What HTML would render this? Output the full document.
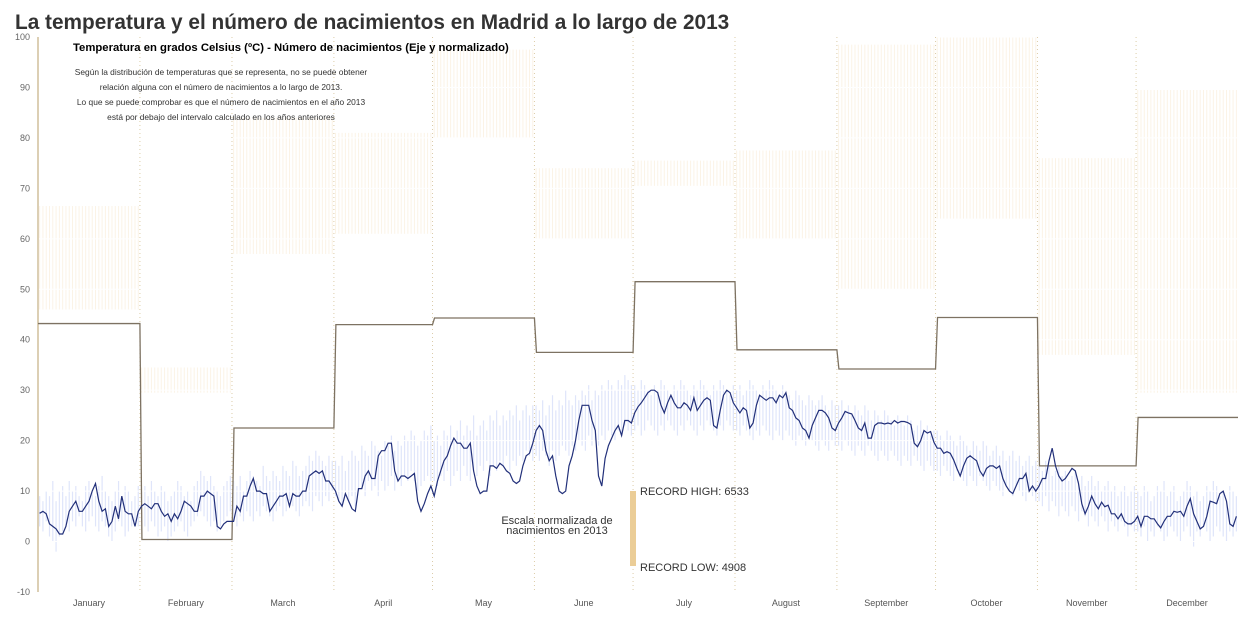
<!DOCTYPE html>
<html><head><meta charset="utf-8"><style>
body{margin:0;background:#fff;font-family:"Liberation Sans",sans-serif}
svg text{font-family:"Liberation Sans",sans-serif}
</style></head><body>
<svg id="chart" width="1256" height="620" xmlns="http://www.w3.org/2000/svg">
<g id="plot"></g>
<text x="15" y="29" font-size="20.8" font-weight="bold" fill="#333">La temperatura y el número de nacimientos en Madrid a lo largo de 2013</text>
<text x="73" y="51" font-size="11.3" font-weight="bold" fill="#000">Temperatura en grados Celsius (ºC) - Número de nacimientos (Eje y normalizado)</text>
<g font-size="8.4" fill="#333" text-anchor="middle">
<text x="221" y="75">Según la distribución de temperaturas que se representa, no se puede obtener</text>
<text x="221" y="90">relación alguna con el número de nacimientos a lo largo de 2013.</text>
<text x="221" y="105">Lo que se puede comprobar es que el número de nacimientos en el año 2013</text>
<text x="221" y="120">está por debajo del intervalo calculado en los años anteriores</text>
</g>
<g>
<rect x="630" y="491" width="6" height="75" fill="#ebcd97"/>
<text x="640" y="495" font-size="11" fill="#333">RECORD HIGH: 6533</text>
<text x="640" y="571" font-size="11" fill="#333">RECORD LOW: 4908</text>
<text x="557" y="524" font-size="11" fill="#333" text-anchor="middle">Escala normalizada de</text>
<text x="557" y="534" font-size="11" fill="#333" text-anchor="middle">nacimientos en 2013</text>
</g>
</svg>
<script>
const months=["January","February","March","April","May","June","July","August","September","October","November","December"];
const monthDays=[31,28,31,30,31,30,31,31,30,31,30,31];
const yTicks=[-10,0,10,20,30,40,50,60,70,80,90,100];
const birthsLow=[46,29.5,57,61,80,60,70.5,60,50,64,37,29.5];
const birthsHigh=[66.5,34.5,84,81,97.5,74,75.5,77.5,98.5,100,76,89.5];
const births2013=[43.2,0.4,22.5,43,44.3,37.5,51.5,38,34.2,44.4,15,24.6];
const temp=[
5.6,6,5.5,3.5,3,2.5,1.5,1.5,3,6,7,8,6,6,7,8,10,11.5,8,6,6.5,3,4,7,4.5,9,6,5.5,5.5,3,6,
7,7.5,7,6.5,7.5,7.5,6,5,5.5,4,5.5,4.5,6,8,7.5,7,6,6,9,9,10,9.5,9,3,2.5,3.5,4,4,
4,7,6,9,9,11,12.5,10,10,9.5,9.5,6,7,8,9,9,9.5,7,9.5,9,9,10,10,13,13.5,14,13.5,14,12,12,11,
10,8,7,9.5,8,6.5,6,10.5,10.5,13,14,12.5,12.5,17,18,18,19.5,19.5,14,12,13,13,12.5,13,13.5,8,6,7.5,9.5,11,
9,12,14,16,17,19,20.5,19.5,19.5,18.5,18.5,19.5,14,11,9.5,10,10,15,15,14.5,15.5,15,14,13.5,12,11.5,12,15,17,17.5,19.5,
22,23,22,18,16,17,13,10,9.5,10,15,17,20,24,27,27,27,24,22,13,11,16.5,19,20.5,22,23,21,24,24,23.5,
25.5,26.7,27.5,28.5,29.5,30,30,29.5,27,25.5,27.5,29,27.5,26.5,26.5,27.5,27,26,28.5,26,27,28,28.5,28,23,22.5,26,29,30,29.5,27.5,
26.5,25.5,26.5,26,22.5,23.5,27,29,28.5,28,28.5,28.5,27.5,29,28.5,29.5,26.5,26,24.5,24,22.5,22,20.5,23,24.5,26,26,25.5,24.5,22.5,22,
23.5,24.5,25.8,25.5,25.3,24,22.5,22,23.5,20.5,20.5,23,23.5,23.5,23.3,23.5,23.3,24,23.5,23.8,23.8,23.6,23.2,19.5,18.8,20,22,21.5,21.8,19.7,
18.5,18.5,17.5,17.8,17.5,16.2,14.5,13,15,16.5,17,16.5,16,14,13,14.5,15,15,14.5,15,12.5,11,10,9.5,11,12.5,12.5,13.5,10,11,10,
11,12.5,12.5,16,18.5,15,13,12,12.5,13.5,14.5,14,11.5,7.5,5.5,7,9,7.5,6.5,7.8,6.9,7.2,5.5,5.5,4.5,5.5,4,3.5,3.5,4,
5,3,5,5,4.5,4.5,3.5,2.7,4,5,5,6,5.8,6,5,7,8.5,5.5,4,2.5,3,5,8,7.8,7.5,9.5,10,8,3.5,3,5];
const histHigh=[
9,8,10,9,12,8,10,11,9,12,10,11,9,8,11,12,10,9,11,13,10,9,8,10,12,9,11,10,8,9,11,
10,11,9,12,10,9,11,10,8,9,10,12,11,9,10,8,11,12,14,13,12,13,11,10,9,11,12,13,
12,11,13,10,12,14,13,12,11,15,13,12,14,13,12,15,14,13,16,15,13,14,15,17,16,18,17,16,15,17,16,
16,15,17,14,16,18,17,16,19,18,17,20,19,18,17,20,19,21,18,20,19,21,20,22,21,19,20,22,21,23,
20,21,19,22,21,23,20,22,24,21,23,22,25,21,23,24,22,25,24,26,23,25,24,26,25,27,24,26,27,25,27,
27,26,28,25,27,29,26,28,27,30,28,27,29,28,30,29,31,28,30,29,31,30,32,31,30,32,31,33,32,31,
31,30,32,31,30,29,31,30,32,31,30,29,31,30,32,31,30,29,31,30,32,31,30,29,31,30,32,31,30,29,31,
30,31,29,30,32,31,30,29,31,30,32,31,30,29,31,30,29,28,30,29,28,27,29,28,27,28,29,27,26,28,27,
27,28,26,27,25,27,26,25,27,26,24,26,25,24,26,25,24,23,25,24,23,25,24,22,23,24,22,23,21,22,
22,21,20,22,21,20,19,21,20,19,18,20,19,18,20,19,17,18,19,17,18,16,17,18,16,17,15,16,17,15,16,
15,14,16,15,13,14,15,13,14,12,13,14,12,13,11,12,13,11,12,10,11,12,10,11,9,10,11,9,10,11,
10,9,11,10,8,9,11,10,12,9,10,11,8,9,10,12,11,9,10,8,9,11,10,12,11,9,10,8,11,10,9];
const histLow=[
3,2,4,1,0,-2,1,2,3,2,4,3,5,3,2,4,5,3,2,4,3,1,0,2,4,3,1,2,3,4,3,
4,3,2,4,3,1,2,3,0,1,2,3,4,2,1,3,4,5,6,5,4,3,4,2,3,4,5,6,
4,3,5,4,6,5,4,6,5,7,6,5,4,6,7,5,6,8,7,6,5,7,8,7,6,9,8,7,9,8,10,
9,8,7,10,8,9,7,10,11,9,12,10,11,9,12,10,11,13,10,12,11,13,12,14,12,10,11,12,13,12,
12,11,13,12,14,11,13,14,12,15,13,12,14,13,15,14,16,13,15,14,16,15,17,14,16,15,17,16,18,17,16,
17,16,18,17,15,18,16,17,19,18,17,19,18,20,19,18,21,19,20,19,21,20,22,21,20,22,21,23,22,21,
22,23,21,22,24,23,22,21,23,22,24,23,22,21,23,22,24,23,22,21,23,22,24,23,22,21,23,22,24,23,22,
22,21,23,22,21,20,22,21,23,22,21,20,22,21,20,22,21,20,19,21,20,19,21,20,19,18,20,19,18,20,19,
19,18,20,19,18,17,19,18,17,19,18,17,16,18,17,16,18,17,16,15,17,16,15,17,16,15,14,16,15,14,
14,13,15,14,13,12,14,13,12,11,13,12,11,13,12,11,10,12,11,10,9,11,10,9,11,10,9,8,10,9,8,
8,7,9,6,8,7,5,7,6,5,7,6,4,6,5,3,5,4,3,5,4,2,4,3,2,4,3,1,3,2,
2,1,3,0,2,1,3,2,0,1,3,2,1,0,2,3,1,-1,2,1,3,2,0,1,3,2,1,0,2,1,2];

const NS="http://www.w3.org/2000/svg";
const plot=document.getElementById('plot');
const X0=38,X1=1238,Y0=37,Y1=592;
const nDays=monthDays.reduce((a,b)=>a+b,0);
function xs(d){return X0+d*(X1-X0)/nDays;}
function ys(v){return Y0+(100-v)*(Y1-Y0)/110;}
function mk(tag,attrs,parent){const e=document.createElementNS(NS,tag);for(const k in attrs)e.setAttribute(k,attrs[k]);(parent||plot).appendChild(e);return e;}
const starts=[];let acc=0;monthDays.forEach(m=>{starts.push(acc);acc+=m;});

const gB=mk('g',{});


months.forEach((m,i)=>{
  for(let d=0;d<monthDays[i];d++){
    const x=xs(starts[i]+d+0.5);
    const l=mk('line',{x1:x,x2:x,y1:ys(birthsLow[i]),y2:ys(birthsHigh[i]),stroke:'#fbf3e6','stroke-width':1},gB);
    
    
  }
});
const gT=mk('g',{});


for(let d=0;d<nDays;d++){
  const x=xs(d+0.5);
  const l=mk('line',{x1:x,x2:x,y1:ys(histLow[d]),y2:ys(histHigh[d]),stroke:'#dfe5fa','stroke-width':1.2},gT);
  
  
}
yTicks.forEach(v=>{
  const g=mk('line',{x1:X0,x2:X1,y1:ys(v),y2:ys(v),stroke:'#fff','stroke-width':1});
  
  
  const t=mk('text',{x:30,y:ys(v)+3,'font-size':9,fill:'#666','text-anchor':'end'});
  t.textContent=v;
  
  
});
months.forEach((m,i)=>{
  if(i>0){
    const x=xs(starts[i]);
    const s=mk('line',{x1:x,x2:x,y1:Y0,y2:Y1,stroke:'#dccca8','stroke-width':1,'stroke-dasharray':'1,3'});
    
    
  }
  const t=mk('text',{x:xs(starts[i]+monthDays[i]/2),y:606,'font-size':9,fill:'#555','text-anchor':'middle'});
  t.textContent=m;
  
  
});
const ax=mk('line',{x1:X0,x2:X0,y1:Y0,y2:Y1,stroke:'#dccfb4','stroke-width':2});


let p='';
births2013.forEach((v,i)=>{
  const xa=xs(starts[i])+(i>0?2:0), xb=xs(starts[i]+monthDays[i]);
  p+=(i===0?'M':'L')+xa+','+ys(v)+'L'+xb+','+ys(v);
});
const st=mk('path',{d:p,fill:'none',stroke:'#7d7262','stroke-width':1.3});


const tp=temp.map((v,d)=>(d?'L':'M')+xs(d+0.5).toFixed(1)+','+ys(v).toFixed(1)).join('');
const tl=mk('path',{d:tp,fill:'none',stroke:'#22307a','stroke-width':1.2});


</script>
</body></html>
